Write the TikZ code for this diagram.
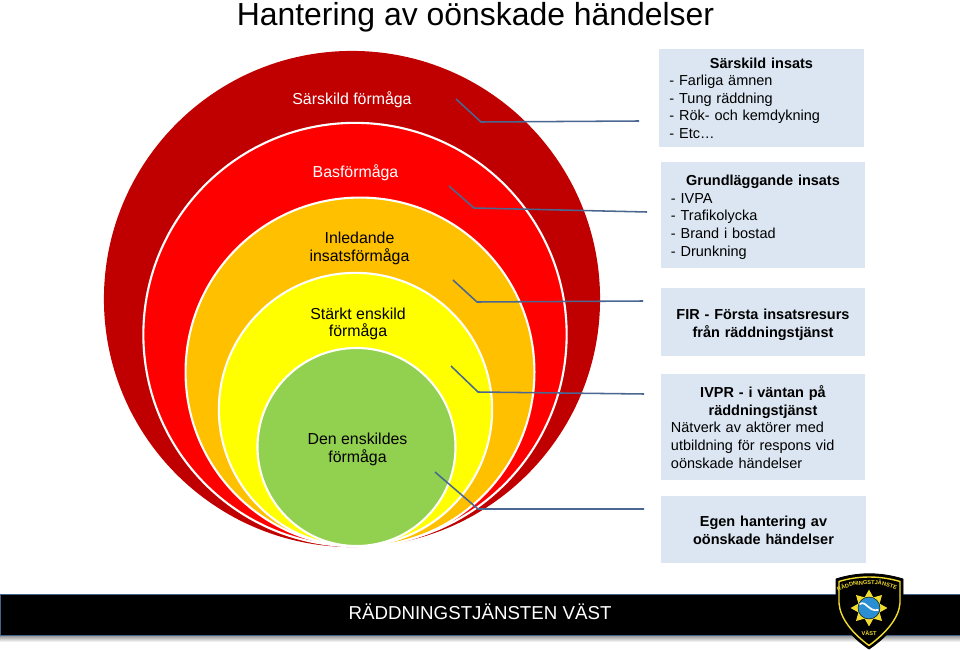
\documentclass[tikz,border=0pt]{standalone}
\usepackage{xcolor}
\usepackage{fontspec}
\setmainfont{Liberation Sans}
\usetikzlibrary{shapes.geometric,decorations.text}
\definecolor{zonedark}{HTML}{C00000}
\definecolor{zonered}{HTML}{FF0000}
\definecolor{zoneorange}{HTML}{FFC000}
\definecolor{zoneyellow}{HTML}{FFFF00}
\definecolor{zonegreen}{HTML}{92D050}
\definecolor{boxfill}{HTML}{DCE6F2}
\definecolor{leadline}{HTML}{4A6791}
\definecolor{bandedge}{HTML}{44618C}
\definecolor{badgeyellow}{HTML}{F2DC2E}
\definecolor{badgeblue}{HTML}{2A8FD2}
\tikzset{
  zone/.style={circle, draw=white, line width=1.5pt, inner sep=0pt},
  zonelabel/.style={align=center, inner sep=0pt, font=\fontsize{11.3}{12.3}\selectfont},
  infobox/.style={fill=boxfill, minimum width=5.1cm, text width=4.6cm, align=left, inner xsep=0.25cm, inner ysep=0pt, font=\fontsize{10.3}{12.5}\selectfont},
  boldbox/.style={infobox, align=center, font=\fontsize{10.3}{12.5}\selectfont\bfseries},
  leader/.style={leadline, line width=1.1pt},
}
\begin{document}
\begin{tikzpicture}[x=0.025cm,y=-0.025cm]
  \useasboundingbox (0,0) rectangle (960,650);
  \node[inner sep=0pt, font=\fontsize{22.7}{26}\selectfont] (title) at (475.5,17) {Hantering av oönskade händelser};

  % rings
  \node[zone, draw=none, fill=zonedark, minimum size=12.4cm] (sarskild) at (352,299) {};
  \node[zone, fill=zonered, minimum size=10.58cm] (bas) at (355,334.5) {};
  \node[zone, fill=zoneorange, minimum size=8.72cm] (inledande) at (360,372) {};
  \node[zone, fill=zoneyellow, minimum size=6.83cm] (starkt) at (355.5,409.5) {};
  \node[zone, fill=zonegreen, minimum size=4.95cm] (enskild) at (356.5,447) {};

  \node[zonelabel, white] (sarskildtxt) at (352,99.5) {Särskild förmåga};
  \node[zonelabel, white] (bastxt) at (355.5,173) {Basförmåga};
  \node[zonelabel] (inledandetxt) at (359.5,248.5) {Inledande\\insatsförmåga};
  \node[zonelabel] (starkttxt) at (358,324) {Stärkt enskild\\förmåga};
  \node[zonelabel] (enskildtxt) at (357.5,449.5) {Den enskildes\\förmåga};

  % boxes
  \node[infobox, minimum width=5.08cm, minimum height=2.45cm] (box1) at (761.5,98) {{\centering\textbf{Särskild insats}\par}- Farliga ämnen\\- Tung räddning\\- Rök- och kemdykning\\- Etc\dots};
  \node[infobox, minimum height=2.65cm] (box2) at (763,215) {{\centering\rule{0pt}{10.5pt}\textbf{Grundläggande insats}\par}- IVPA\\- Trafikolycka\\- Brand i bostad\\- Drunkning};
  \node[boldbox, minimum height=1.7cm] (box3) at (763,322) {\rule{0pt}{11.5pt}FIR - Första insatsresurs\\från räddningstjänst};
  \node[infobox, minimum height=2.65cm] (box4) at (763,427) {{\centering\textbf{IVPR - i väntan på\\räddningstjänst}\par}Nätverk av aktörer med\\utbildning för respons vid\\oönskade händelser};
  \node[boldbox, minimum height=1.68cm] (box5) at (763.5,529.5) {\rule{0pt}{8.7pt}Egen hantering av\\oönskade händelser};

  % leader lines
  \coordinate (l1a) at (456,99);
  \coordinate (l1b) at (481,122);
  \coordinate (l1c) at (639,121);
  \coordinate (l2a) at (449,186);
  \coordinate (l2b) at (474,208);
  \coordinate (l2c) at (647,212);
  \coordinate (l3a) at (453,280);
  \coordinate (l3b) at (477,302);
  \coordinate (l3c) at (643,301);
  \coordinate (l4a) at (451,366);
  \coordinate (l4b) at (478,392);
  \coordinate (l4c) at (644,394);
  \coordinate (l5a) at (435,472);
  \coordinate (l5b) at (478,509);
  \coordinate (l5c) at (644,509);
  \draw[leader] (l1a) -- (l1b) -- (l1c);
  \draw[leader] (l2a) -- (l2b) -- (l2c);
  \draw[leader] (l3a) -- (l3b) -- (l3c);
  \draw[leader] (l4a) -- (l4b) -- (l4c);
  \draw[leader] (l5a) -- (l5b) -- (l5c);

  % footer band
  \shade[top color=black!45, bottom color=white] (0,635) rectangle (960,642);
  \node[fill=black, draw=bandedge, line width=0.4pt, minimum width=24cm, minimum height=1.02cm, inner sep=0pt] (band) at (480,614.5) {};
  \node[inner sep=0pt, text=white, font=\fontsize{13.3}{15}\selectfont] (bandtxt) at (480,612) {RÄDDNINGSTJÄNSTEN VÄST};

  % badge
  \draw[fill=black, draw=black, line width=0.6pt, line join=round] (836,579) .. controls (858,572) and (880,572) .. (903,579) -- (903,603) .. controls (902,620) and (888,636) .. (869,649) .. controls (850,636) and (837,620) .. (836,603) -- cycle;
  \draw[draw=badgeyellow, line width=1pt, line join=round] (839,581.5) .. controls (858,575.5) and (880,575.5) .. (900,581.5) -- (900,603) .. controls (899,618) and (886,633) .. (869,645.5) .. controls (852,633) and (840,618) .. (839,603) -- cycle;
  \node[star, star points=8, star point ratio=1.6, fill=badgeyellow, minimum size=0.92cm, inner sep=0pt] (badgestar) at (869,608) {};
  \node[circle, fill=badgeblue, draw=black, line width=0.3pt, minimum size=0.55cm, inner sep=0pt] (badgedisc) at (869,608) {};
  \draw[white, line width=1.2pt, line cap=round] (860,604) .. controls (866,600) and (868,612) .. (878,610);
  \path[decorate, decoration={text along path, text align=center, text={|\fontsize{4}{4}\selectfont\bfseries\color{badgeyellow}|RÄDDNINGSTJÄNSTEN}}] (843,589) .. controls (858,583) and (880,583) .. (895,589);
  \node[inner sep=0pt, text=badgeyellow, font=\fontsize{4}{4}\selectfont\bfseries] (badgetxt) at (869,633) {VÄST};
\end{tikzpicture}
\end{document}
